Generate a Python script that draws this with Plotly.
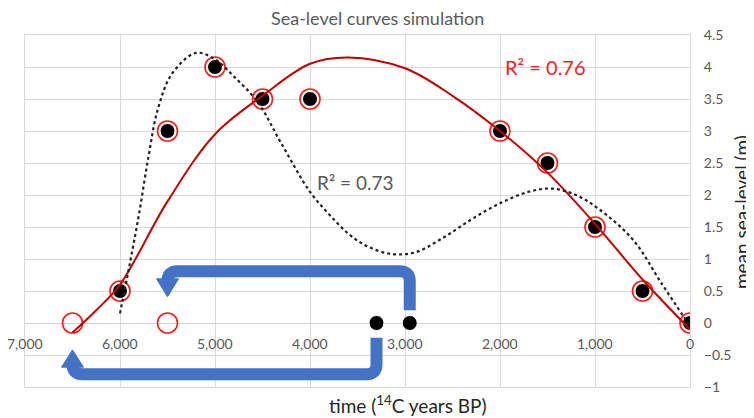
import plotly.graph_objects as go

# ---------------- data ----------------
# original observations (black dots)
orig_x = [6000, 5500, 5000, 4500, 4000, 3300, 2950, 2000, 1500, 1000, 500, 0]
orig_y = [0.5, 3.0, 4.0, 3.5, 3.5, 0.0, 0.0, 3.0, 2.5, 1.5, 0.5, 0.0]

# corrected observations (red rings)
corr_x = [6500, 6000, 5500, 5500, 5000, 4500, 4000, 2000, 1500, 1000, 500, 0]
corr_y = [0.0, 0.5, 0.0, 3.0, 4.0, 3.5, 3.5, 3.0, 2.5, 1.5, 0.5, 0.0]

# red trend curve, R2 = 0.76
red_x = [6500, 6250, 6000, 5500, 5000, 4500, 4000, 3600, 3000, 2500, 2000, 1500, 1000, 500, 0]
red_y = [-0.15, 0.2, 0.6, 1.9, 2.95, 3.55, 4.05, 4.15, 3.98, 3.55, 3.0, 2.35, 1.55, 0.68, -0.1]

# dotted trend curve, R2 = 0.73
dot_x = [6000, 5900, 5800, 5700, 5600, 5450, 5200, 5000, 4800, 4550, 4300, 4000, 3800,
         3600, 3400, 3150, 2900, 2600, 2300, 2000, 1700, 1450, 1200, 950, 600, 300, 0]
dot_y = [0.15, 0.9, 1.7, 2.6, 3.35, 3.9, 4.22, 4.12, 3.85, 3.45, 2.8, 2.05, 1.7,
         1.4, 1.2, 1.08, 1.1, 1.33, 1.62, 1.87, 2.05, 2.1, 2.0, 1.77, 1.3, 0.62, -0.05]

x_ticks = [7000, 6000, 5000, 4000, 3000, 2000, 1000, 0]
x_tick_labels = ["7,000", "6,000", "5,000", "4,000", "3,000", "2,000", "1,000", "0"]

# moved points: (from, to)
moves = [(2950, 5500), (3300, 6500)]

FONT = "Lato, 'Open Sans', sans-serif"
GRAY = "#595959"
GRID = "#d9d9d9"
BLUE = "#4472C4"

fig = go.Figure()

fig.add_trace(go.Scatter(
    x=corr_x, y=corr_y, mode="markers",
    marker=dict(symbol="circle-open", size=20, color="#ff1a1a", line=dict(width=1.6, color="#ff1a1a")),
    showlegend=False, hoverinfo="skip"))
fig.add_trace(go.Scatter(
    x=orig_x, y=orig_y, mode="markers",
    marker=dict(symbol="circle", size=15, color="black", line=dict(width=1, color="white")),
    showlegend=False, hoverinfo="skip"))
fig.add_trace(go.Scatter(
    x=red_x, y=red_y, mode="lines", line=dict(color="#C00000", width=2, shape="spline", smoothing=1.0),
    showlegend=False, hoverinfo="skip"))
fig.add_trace(go.Scatter(
    x=dot_x, y=dot_y, mode="lines", line=dict(color="#222222", width=2.2, dash="dot", shape="spline", smoothing=1.0),
    showlegend=False, hoverinfo="skip"))

# ---------------- arrows ----------------
px_x = 7000 / 665.0   # data units per pixel (x)
px_y = 5.5 / 352.0    # data units per pixel (y)
r_x, r_y = 10 * px_x, 10 * px_y
half_head = 11 * px_x

shapes = []
# top arrow: from 2950 up, left, down to 5500
(xa, xb) = moves[0]
y_start, y_h, y_base, y_tip = 0.2, 0.81, 0.69, 0.41
path = (f"M {xa},{y_start} L {xa},{y_h - r_y} Q {xa},{y_h} {xa + r_x},{y_h} "
        f"L {xb - r_x},{y_h} Q {xb},{y_h} {xb},{y_h - r_y} L {xb},{y_base}")
shapes.append(dict(type="path", path=path, xref="x", yref="y", line=dict(color=BLUE, width=12)))
shapes.append(dict(type="path", xref="x", yref="y", fillcolor=BLUE, line=dict(color=BLUE, width=1),
                   path=f"M {xb - half_head},{y_base} L {xb + half_head},{y_base} L {xb},{y_tip} Z"))
# bottom arrow: from 3300 down, left, up to 6500
(xa, xb) = moves[1]
y_start, y_h, y_base, y_tip = -0.23, -0.8, -0.69, -0.42
path = (f"M {xa},{y_start} L {xa},{y_h + r_y} Q {xa},{y_h} {xa + r_x},{y_h} "
        f"L {xb - r_x},{y_h} Q {xb},{y_h} {xb},{y_h + r_y} L {xb},{y_base}")
shapes.append(dict(type="path", path=path, xref="x", yref="y", line=dict(color=BLUE, width=12)))
shapes.append(dict(type="path", xref="x", yref="y", fillcolor=BLUE, line=dict(color=BLUE, width=1),
                   path=f"M {xb - half_head},{y_base} L {xb + half_head},{y_base} L {xb},{y_tip} Z"))

# ---------------- annotations ----------------
ann = []
for v, lab in zip(x_ticks, x_tick_labels):
    ann.append(dict(x=v, y=0, xref="x", yref="y", text=lab, showarrow=False, yanchor="top",
                    yshift=-10, font=dict(family=FONT, size=14, color=GRAY)))
ann.append(dict(x=1526, y=4.0, xref="x", yref="y", text="R² = 0.76", showarrow=False,
                font=dict(family=FONT, size=20, color="#ff2020")))
ann.append(dict(x=3516, y=2.19, xref="x", yref="y", text="R² = 0.73", showarrow=False,
                font=dict(family=FONT, size=19, color=GRAY)))
ann.append(dict(x=0.53, y=1.0483, xref="paper", yref="paper", xanchor="center", yanchor="middle",
                text="Sea-level curves simulation",
                showarrow=False, font=dict(family=FONT, size=18, color=GRAY)))
ann.append(dict(x=0.576, y=-0.0511, xref="paper", yref="paper", xanchor="center", yanchor="middle",
                text="time (<sup>14</sup>C years BP)",
                showarrow=False, font=dict(family=FONT, size=19, color="#262626")))
ann.append(dict(x=1.0767, y=0.497, xref="paper", yref="paper", xanchor="center", yanchor="middle",
                text="mean sea-level (m)", textangle=-90,
                showarrow=False, font=dict(family=FONT, size=19, color="#262626")))

# page body has an 8px margin: shrink the figure so the plot lands where intended
fig.update_layout(
    width=746, height=410,
    margin=dict(l=17, r=64, t=27, b=31),
    plot_bgcolor="white", paper_bgcolor="white",
    shapes=shapes, annotations=ann,
    xaxis=dict(range=[7000, 0], tickvals=x_ticks, showticklabels=False, showgrid=True, gridcolor=GRID,
               zeroline=False, showline=True, mirror=True, linecolor=GRID, ticks=""),
    yaxis=dict(range=[-1, 4.5], dtick=0.5, side="right", showgrid=True, gridcolor=GRID,
               zeroline=True, zerolinecolor="#cfcfcf", zerolinewidth=1.2,
               showline=True, mirror=True, linecolor=GRID, ticks="",
               ticklabelstandoff=10, tickfont=dict(family=FONT, size=14, color=GRAY)),
)

fig.write_html("out.html")
